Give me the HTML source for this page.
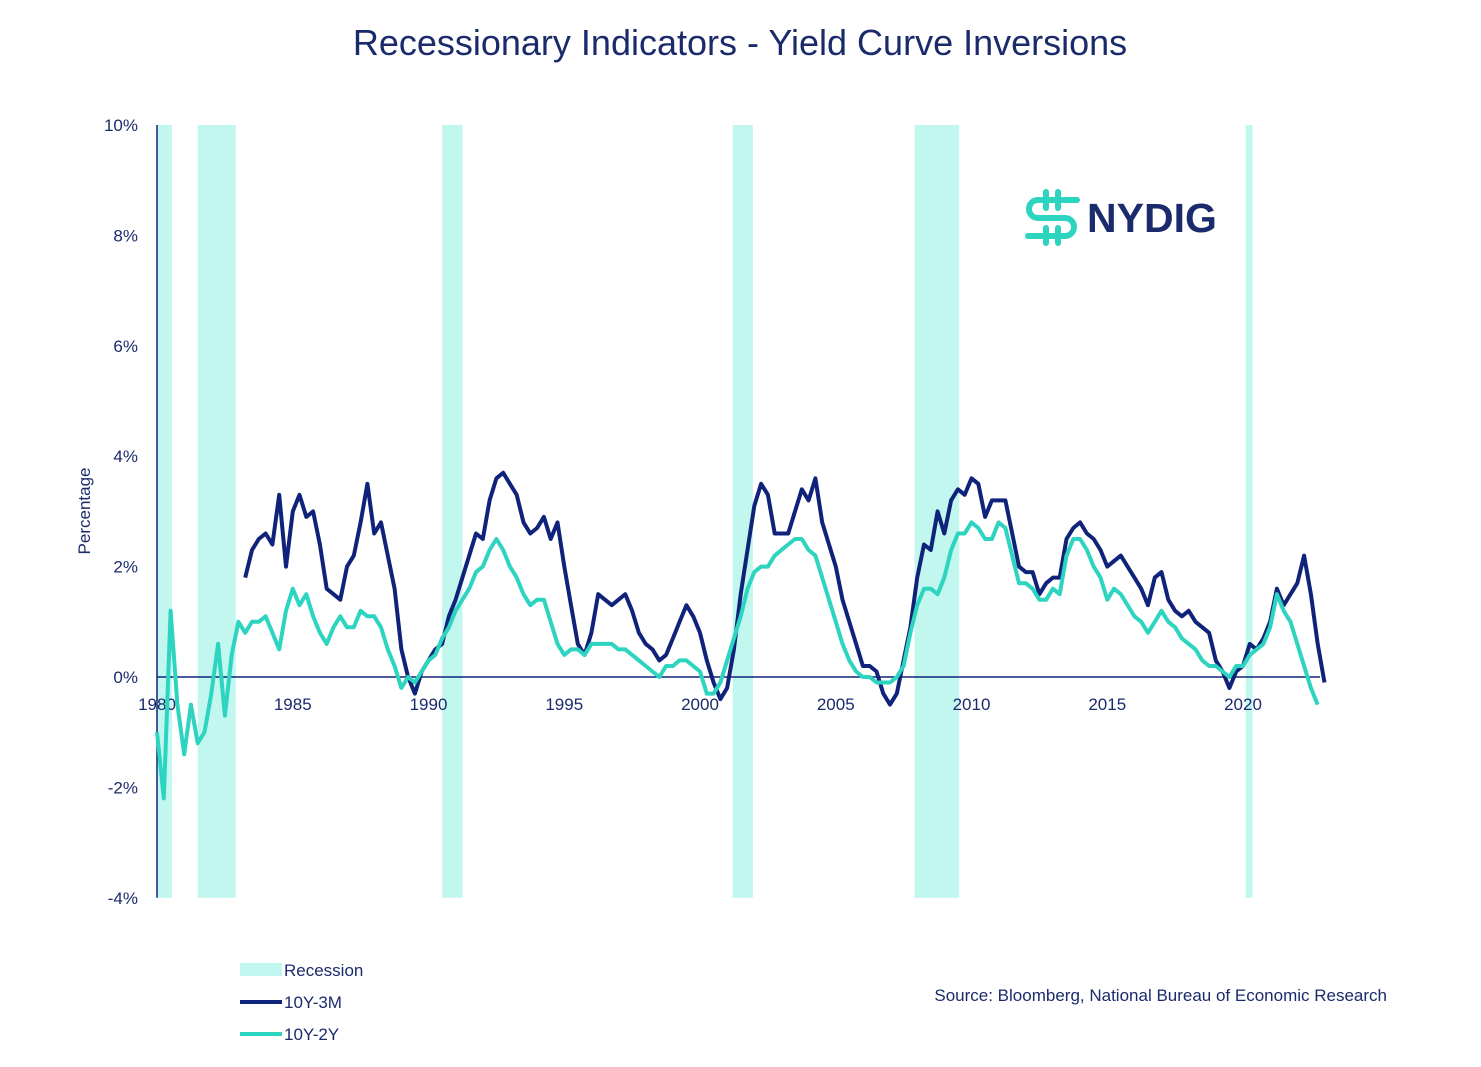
<!DOCTYPE html>
<html><head><meta charset="utf-8"><style>
body{margin:0;background:#fff;width:1481px;height:1062px;overflow:hidden;font-family:"Liberation Sans",sans-serif;}
</style></head><body>
<svg width="1481" height="1062" id="svg">
<text x="740" y="55" text-anchor="middle" font-size="36" fill="#1b2a6b">Recessionary Indicators - Yield Curve Inversions</text>
<g id="rec"></g>
<g id="axes"></g>
<g id="lines"></g>
<text transform="translate(90,511) rotate(-90)" text-anchor="middle" font-size="17" fill="#1b2a6b">Percentage</text>
<g>
<g fill="none" stroke="#2dd4bf" stroke-width="6" stroke-linecap="round">
<path d="M1077 200 H1038 a9 9 0 0 0 0 18 H1065 a9 9 0 0 1 0 18 H1028"/>
<line x1="1046" y1="192" x2="1046" y2="208"/><line x1="1058" y1="192" x2="1058" y2="208"/>
<line x1="1046" y1="228" x2="1046" y2="243"/><line x1="1058" y1="228" x2="1058" y2="243"/>
</g>
<text x="1087" y="232" font-size="41" font-weight="bold" fill="#1b2a6b">NYDIG</text>
</g>
<g>
<rect x="240" y="963" width="42" height="13" fill="#c2f7ef"/>
<text x="284" y="976" font-size="17" fill="#1b2a6b">Recession</text>
<line x1="240" y1="1002" x2="282" y2="1002" stroke="#10237a" stroke-width="4"/>
<text x="284" y="1008" font-size="17" fill="#1b2a6b">10Y-3M</text>
<line x1="240" y1="1034" x2="282" y2="1034" stroke="#2dd4bf" stroke-width="4"/>
<text x="284" y="1040" font-size="17" fill="#1b2a6b">10Y-2Y</text>
</g>
<text x="1387" y="1001" text-anchor="end" font-size="17" fill="#1b2a6b">Source: Bloomberg, National Bureau of Economic Research</text>
</svg>
<script>
const recStart=[1980.0,1981.5,1990.5,2001.2,2007.9,2020.1];
const recEnd=[1980.55,1982.9,1991.25,2001.95,2009.55,2020.35];
const yTicks=[10,8,6,4,2,0,-2,-4];
const xTicks=[1980,1985,1990,1995,2000,2005,2010,2015,2020];
const start3m=1983.25;
const s3m=[1.8,2.3,2.5,2.6,2.4,3.3,2.0,3.0,3.3,2.9,3.0,2.4,1.6,1.5,1.4,2.0,2.2,2.8,3.5,2.6,2.8,2.2,1.6,0.5,0.0,-0.3,0.1,0.3,0.5,0.6,1.1,1.4,1.8,2.2,2.6,2.5,3.2,3.6,3.7,3.5,3.3,2.8,2.6,2.7,2.9,2.5,2.8,2.0,1.3,0.6,0.4,0.8,1.5,1.4,1.3,1.4,1.5,1.2,0.8,0.6,0.5,0.3,0.4,0.7,1.0,1.3,1.1,0.8,0.3,-0.1,-0.4,-0.2,0.5,1.5,2.3,3.1,3.5,3.3,2.6,2.6,2.6,3.0,3.4,3.2,3.6,2.8,2.4,2.0,1.4,1.0,0.6,0.2,0.2,0.1,-0.3,-0.5,-0.3,0.3,0.9,1.8,2.4,2.3,3.0,2.6,3.2,3.4,3.3,3.6,3.5,2.9,3.2,3.2,3.2,2.6,2.0,1.9,1.9,1.5,1.7,1.8,1.8,2.5,2.7,2.8,2.6,2.5,2.3,2.0,2.1,2.2,2.0,1.8,1.6,1.3,1.8,1.9,1.4,1.2,1.1,1.2,1.0,0.9,0.8,0.3,0.1,-0.2,0.1,0.2,0.6,0.5,0.7,1.0,1.6,1.3,1.5,1.7,2.2,1.5,0.6,-0.1];
const start2y=1980.0;
const s2y=[-1.0,-2.2,1.2,-0.5,-1.4,-0.5,-1.2,-1.0,-0.3,0.6,-0.7,0.4,1.0,0.8,1.0,1.0,1.1,0.8,0.5,1.2,1.6,1.3,1.5,1.1,0.8,0.6,0.9,1.1,0.9,0.9,1.2,1.1,1.1,0.9,0.5,0.2,-0.2,0.0,-0.1,0.1,0.3,0.4,0.7,0.9,1.2,1.4,1.6,1.9,2.0,2.3,2.5,2.3,2.0,1.8,1.5,1.3,1.4,1.4,1.0,0.6,0.4,0.5,0.5,0.4,0.6,0.6,0.6,0.6,0.5,0.5,0.4,0.3,0.2,0.1,0.0,0.2,0.2,0.3,0.3,0.2,0.1,-0.3,-0.3,-0.1,0.3,0.7,1.1,1.6,1.9,2.0,2.0,2.2,2.3,2.4,2.5,2.5,2.3,2.2,1.8,1.4,1.0,0.6,0.3,0.1,0.0,0.0,-0.1,-0.1,-0.1,0.0,0.2,0.8,1.3,1.6,1.6,1.5,1.8,2.3,2.6,2.6,2.8,2.7,2.5,2.5,2.8,2.7,2.2,1.7,1.7,1.6,1.4,1.4,1.6,1.5,2.2,2.5,2.5,2.3,2.0,1.8,1.4,1.6,1.5,1.3,1.1,1.0,0.8,1.0,1.2,1.0,0.9,0.7,0.6,0.5,0.3,0.2,0.2,0.1,0.0,0.2,0.2,0.4,0.5,0.6,0.9,1.5,1.2,1.0,0.6,0.2,-0.2,-0.5];
const NS="http://www.w3.org/2000/svg";
const X=y=>157+(y-1980)*27.15;
const Y=v=>677-v*55.2;
function mk(tag,attrs,parent){const e=document.createElementNS(NS,tag);for(const k in attrs)e.setAttribute(k,attrs[k]);parent.appendChild(e);return e;}
const rec=document.getElementById('rec');
recStart.forEach((s,i)=>{const r=mk('rect',{x:X(s),y:Y(10),width:X(recEnd[i])-X(s),height:Y(-4)-Y(10),fill:'#c2f7ef'},rec);

});
const ax=document.getElementById('axes');
const yl=mk('line',{x1:157,y1:Y(10),x2:157,y2:Y(-4),stroke:'#10237a','stroke-width':1.5},ax);


const xl=mk('line',{x1:157,y1:Y(0),x2:1320,y2:Y(0),stroke:'#10237a','stroke-width':1.5},ax);


yTicks.forEach(v=>{const t=mk('text',{x:138,y:Y(v)+6,'text-anchor':'end','font-size':17,fill:'#1b2a6b'},ax);t.textContent=v+'%';

});
xTicks.forEach(v=>{const t=mk('text',{x:X(v),y:Y(0)+33,'text-anchor':'middle','font-size':17,fill:'#1b2a6b'},ax);t.textContent=v;

});
function line(data,st,col,name){const pts=data.map((v,i)=>X(st+i*0.25).toFixed(1)+','+Y(v).toFixed(1)).join(' ');
const p=mk('polyline',{points:pts,fill:'none',stroke:col,'stroke-width':4,'stroke-linejoin':'round'},document.getElementById('lines'));

}
line(s3m,start3m,'#10237a','line-10y-3m');
line(s2y,start2y,'#2dd4bf','line-10y-2y');
</script>
</body></html>
